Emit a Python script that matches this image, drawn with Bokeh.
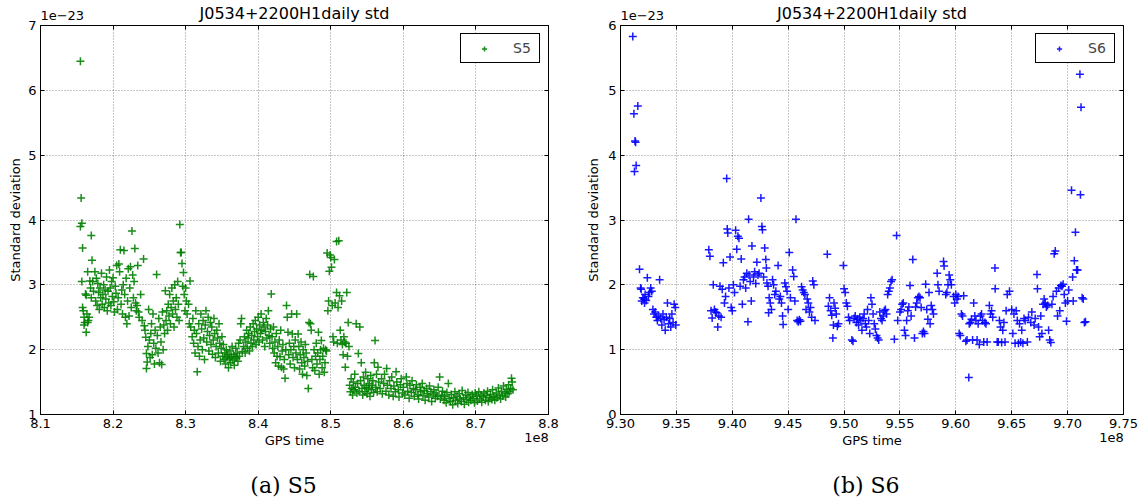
from bokeh.plotting import figure
from bokeh.layouts import row
from bokeh.models import (Range1d, FixedTicker, PrintfTickFormatter, LinearAxis,
                          CustomJSTickFormatter)
from bokeh.embed import file_html
from bokeh.resources import INLINE

# ---------------- data (GPS time in units of 1e8 s, std in units of 1e-23) ----------------
s5_gps = [
    8.155, 8.156, 8.157, 8.155, 8.158, 8.157, 8.158, 8.159, 8.160, 8.161,
    8.160, 8.163, 8.162, 8.163, 8.165, 8.166, 8.164, 8.167, 8.165, 8.170,
    8.168, 8.169, 8.170, 8.171, 8.172, 8.173,
    8.175, 8.177, 8.176, 8.178, 8.179, 8.180, 8.181, 8.182, 8.183, 8.184,
    8.185, 8.186, 8.187, 8.188, 8.189, 8.190, 8.191, 8.192, 8.193, 8.194,
    8.195, 8.196, 8.197, 8.198, 8.199, 8.200, 8.201, 8.202, 8.203, 8.204,
    8.205, 8.206, 8.207, 8.208, 8.209, 8.210, 8.211, 8.212, 8.213, 8.214,
    8.215, 8.216, 8.217, 8.218, 8.219, 8.220, 8.221, 8.222, 8.223, 8.224,
    8.226, 8.225, 8.227, 8.228, 8.229, 8.230, 8.231, 8.232, 8.233, 8.234,
    8.235, 8.236, 8.238,
    8.240, 8.242, 8.243, 8.244, 8.245, 8.246, 8.247, 8.246, 8.248, 8.249,
    8.250, 8.251, 8.252, 8.253, 8.254, 8.255, 8.256, 8.257, 8.258, 8.259,
    8.260, 8.261, 8.262, 8.263, 8.264, 8.265, 8.266, 8.267, 8.268, 8.269,
    8.270, 8.271,
    8.272, 8.273, 8.274, 8.275, 8.276, 8.277, 8.278, 8.279, 8.280, 8.281,
    8.282, 8.283, 8.284, 8.285, 8.286, 8.287, 8.288, 8.289, 8.290, 8.291,
    8.292, 8.293, 8.294, 8.295, 8.296, 8.297, 8.298, 8.299, 8.300, 8.301,
    8.302, 8.304, 8.306, 8.305,
    8.307, 8.309, 8.310, 8.311, 8.312, 8.313, 8.314, 8.315, 8.316, 8.317,
    8.318, 8.319, 8.320, 8.321, 8.322, 8.323, 8.324, 8.325, 8.326, 8.327,
    8.328, 8.329, 8.330, 8.331, 8.332, 8.333, 8.334, 8.335, 8.336, 8.337,
    8.338, 8.339, 8.340, 8.341, 8.342, 8.343, 8.344, 8.345, 8.346, 8.347,
    8.348, 8.349, 8.350,
    8.351, 8.352, 8.353, 8.354, 8.355, 8.356, 8.357, 8.358, 8.359, 8.360,
    8.361, 8.362, 8.363, 8.364, 8.365, 8.366, 8.367, 8.368, 8.369, 8.370,
    8.371, 8.372, 8.373, 8.374, 8.375, 8.376, 8.377, 8.378,
    8.380, 8.381, 8.382, 8.383, 8.384, 8.385, 8.386, 8.387, 8.388, 8.389,
    8.390, 8.391, 8.392, 8.393, 8.394, 8.395, 8.396, 8.397, 8.398, 8.399,
    8.400, 8.401, 8.402, 8.403, 8.404, 8.405, 8.406, 8.407, 8.408, 8.409,
    8.410, 8.411, 8.412, 8.413, 8.414, 8.415, 8.416, 8.418, 8.417,
    8.419, 8.420, 8.421, 8.422, 8.423, 8.424, 8.425, 8.426, 8.427, 8.428,
    8.429, 8.430, 8.431, 8.432, 8.433, 8.434, 8.435, 8.436, 8.437, 8.438,
    8.439, 8.440, 8.441, 8.442, 8.443, 8.444, 8.445, 8.446, 8.447, 8.448,
    8.449,
    8.450, 8.451, 8.452, 8.453, 8.454, 8.455, 8.456, 8.457, 8.458, 8.459,
    8.460, 8.461, 8.462, 8.463, 8.464, 8.465, 8.466, 8.467, 8.468, 8.469,
    8.470, 8.471, 8.472, 8.473, 8.474, 8.475, 8.476, 8.477, 8.478, 8.479,
    8.480, 8.481, 8.482, 8.483, 8.484, 8.485, 8.486, 8.487, 8.488, 8.489,
    8.490, 8.491, 8.492, 8.493, 8.494, 8.495,
    8.496, 8.497, 8.498, 8.499, 8.500, 8.501, 8.502, 8.503, 8.504, 8.505,
    8.506, 8.508, 8.508, 8.509, 8.510, 8.511, 8.512, 8.513, 8.514, 8.515,
    8.516, 8.517, 8.518, 8.519, 8.520, 8.521, 8.522, 8.523, 8.524, 8.525,
    8.526, 8.527, 8.528, 8.529, 8.530, 8.531, 8.532, 8.533, 8.534, 8.535,
    8.536, 8.537, 8.538, 8.539, 8.540, 8.541, 8.542, 8.543, 8.544, 8.545,
    8.546, 8.547, 8.548, 8.549, 8.550, 8.551, 8.552, 8.553, 8.554, 8.555,
    8.556, 8.557, 8.558, 8.559, 8.560, 8.561, 8.562, 8.563, 8.564, 8.565,
    8.566,
    8.568, 8.570, 8.571, 8.573, 8.574, 8.576, 8.577, 8.578, 8.580, 8.581,
    8.583, 8.584, 8.586, 8.587, 8.589, 8.590, 8.591, 8.593, 8.594, 8.596,
    8.597, 8.599, 8.600, 8.602, 8.604, 8.605, 8.606, 8.608, 8.609, 8.611,
    8.612, 8.614, 8.615, 8.617, 8.618, 8.620, 8.621, 8.623, 8.624, 8.626,
    8.627, 8.629, 8.630, 8.632, 8.633, 8.635, 8.636, 8.638, 8.639, 8.641,
    8.642, 8.644, 8.645, 8.647, 8.648, 8.650, 8.651,
    8.653, 8.654, 8.656, 8.657, 8.659, 8.660, 8.662, 8.663, 8.665, 8.666,
    8.668, 8.669, 8.671, 8.672, 8.674, 8.675, 8.677, 8.678, 8.680, 8.681,
    8.683, 8.684, 8.686, 8.687, 8.689, 8.690, 8.692, 8.693, 8.695, 8.696,
    8.698, 8.699, 8.701, 8.702, 8.704, 8.705, 8.707, 8.708, 8.710, 8.711,
    8.713, 8.714, 8.716, 8.717, 8.719, 8.720, 8.722, 8.723, 8.725, 8.726,
    8.728, 8.729, 8.731, 8.732, 8.734, 8.735, 8.737, 8.738, 8.740, 8.741,
    8.742, 8.744, 8.745, 8.746, 8.748, 8.749, 8.750, 8.751,
]
s5_std = [
    6.45, 4.34, 3.95, 3.90, 3.57, 3.05, 2.65, 2.60, 2.50, 2.42,
    2.38, 2.27, 2.86, 2.84, 2.42, 2.45, 2.55, 2.50, 3.20, 3.76,
    3.06, 2.95, 2.80, 3.38, 3.05, 2.90,
    3.20, 3.10, 2.75, 2.68, 3.02, 2.88, 2.62, 2.95, 2.80, 3.18,
    2.70, 2.85, 3.00, 2.65, 2.92, 2.78, 3.12, 2.60, 2.90, 2.72,
    3.23, 2.95, 2.68, 3.05, 2.82, 3.11, 2.74, 2.58, 2.98, 2.87,
    3.30, 2.62, 2.80, 3.32, 3.20, 3.54, 2.70, 2.92, 2.55, 3.00,
    3.53, 2.85, 2.50, 3.10, 2.40, 2.75, 3.25, 2.52, 2.95, 3.28,
    3.83, 2.65, 3.15, 2.80, 3.05, 3.56, 2.72, 2.60, 2.68, 3.30,
    2.58, 2.50, 2.85,
    2.45, 3.40, 2.37, 2.30, 2.19, 1.94, 1.81, 1.71, 2.05, 2.62,
    2.15, 1.88, 2.25, 2.40, 1.92, 2.55, 2.10, 1.78, 2.30, 2.02,
    3.16, 2.22, 1.95, 2.48, 1.80, 2.35, 2.12, 1.77, 2.58, 2.00,
    2.38, 2.25,
    2.91, 2.45, 2.60, 2.30, 2.70, 2.52, 2.85, 2.40, 2.65, 2.95,
    2.55, 2.75, 2.35, 3.00, 2.62, 2.80, 2.50, 3.05, 2.70, 2.45,
    3.93, 3.50, 3.50, 3.33, 2.98, 3.19, 2.85, 2.60, 2.95, 2.75,
    2.55, 2.70, 3.06, 2.40,
    2.35, 2.20, 2.48, 2.10, 2.30, 1.95, 2.60, 2.25, 1.66, 2.05,
    2.40, 1.90, 2.15, 2.55, 2.32, 2.00, 2.45, 2.18, 1.85, 2.38,
    2.60, 2.12, 2.28, 2.50, 1.98, 2.22, 2.42, 2.08, 2.35, 1.93,
    2.15, 2.48, 2.25, 1.88, 2.05, 2.30, 2.18, 1.95, 2.40, 2.10,
    1.82, 2.02, 2.20,
    1.90, 2.08, 1.85, 1.95, 1.78, 2.00, 1.88, 1.92, 1.72, 1.86,
    1.98, 1.80, 1.90, 2.05, 1.84, 1.93, 1.76, 1.89, 2.02, 1.87,
    1.95, 1.82, 2.10, 1.90, 2.15, 2.40, 2.48, 1.97,
    2.05, 2.20, 1.95, 2.12, 2.30, 2.02, 2.18, 2.25, 1.98, 2.35,
    2.10, 2.22, 2.05, 2.40, 2.15, 2.28, 2.45, 2.08, 2.32, 2.20,
    2.50, 2.12, 2.38, 2.25, 2.55, 2.30, 2.15, 2.42, 2.35, 2.05,
    2.28, 2.48, 2.18, 2.38, 2.60, 2.22, 2.10, 2.86, 2.32,
    2.20, 2.02, 2.35, 1.95, 2.12, 1.80, 2.25, 1.90, 2.05, 1.75,
    2.15, 1.89, 2.30, 1.73, 1.98, 2.08, 1.70, 1.85, 1.56, 2.00,
    2.68, 2.50, 2.27, 1.92, 2.10, 1.78, 2.00, 2.55, 2.24, 1.88,
    2.05,
    1.72, 2.15, 1.95, 2.55, 1.85, 2.24, 2.05, 1.70, 1.92, 2.12,
    1.80, 1.62, 2.00, 1.88, 1.75, 2.08, 1.95, 1.60, 1.82, 1.40,
    2.42, 3.16, 2.40, 2.30, 1.85, 1.72, 3.13, 2.00, 1.68, 1.90,
    2.10, 1.78, 1.95, 2.27, 1.62, 1.85, 2.00, 2.14, 1.72, 1.90,
    2.02, 1.65, 1.80, 2.00, 1.98, 3.49,
    2.60, 2.75, 3.21, 3.46, 3.42, 3.27, 2.68, 2.20, 2.12, 3.39,
    2.72, 3.67, 2.88, 2.10, 2.65, 3.68, 2.83, 2.30, 2.15, 2.75,
    2.08, 1.92, 2.20, 2.12, 1.73, 2.10, 2.88, 1.90, 2.42, 2.05,
    1.45, 1.35, 1.55, 1.40, 1.30, 1.50, 1.38, 1.62, 1.42, 2.40,
    1.33, 1.48, 1.94, 1.36, 2.35, 1.52, 1.80, 1.40, 1.30, 1.58,
    1.45, 1.35, 1.65, 1.42, 1.32, 1.55, 1.40, 1.48, 1.28, 1.60,
    1.38, 1.45, 1.52, 1.34, 1.80, 2.14, 1.42, 1.62, 1.35, 1.73,
    1.50,
    1.40, 1.55, 1.32, 1.48, 1.62, 1.36, 1.71, 1.45, 1.30, 1.52,
    1.40, 1.58, 1.28, 1.44, 1.35, 1.66, 1.50, 1.38, 1.27, 1.46,
    1.55, 1.33, 1.42, 1.30, 1.58, 1.48, 1.36, 1.25, 1.45, 1.34,
    1.52, 1.40, 1.28, 1.38, 1.46, 1.31, 1.24, 1.42, 1.35, 1.48,
    1.29, 1.37, 1.22, 1.40, 1.32, 1.27, 1.44, 1.35, 1.20, 1.30,
    1.38, 1.25, 1.33, 1.28, 1.42, 1.58, 1.24,
    1.30, 1.36, 1.22, 1.28, 1.18, 1.34, 1.48, 1.25, 1.20, 1.31,
    1.15, 1.26, 1.35, 1.22, 1.28, 1.17, 1.32, 1.24, 1.20, 1.37,
    1.26, 1.16, 1.30, 1.23, 1.34, 1.19, 1.27, 1.22, 1.31, 1.25,
    1.18, 1.33, 1.28, 1.21, 1.35, 1.24, 1.30, 1.19, 1.27, 1.33,
    1.22, 1.29, 1.36, 1.20, 1.26, 1.31, 1.23, 1.38, 1.28, 1.22,
    1.33, 1.26, 1.41, 1.30, 1.24, 1.36, 1.29, 1.44, 1.33, 1.27,
    1.39, 1.32, 1.46, 1.35, 1.40, 1.56, 1.50, 1.38,
]

s6_gps = [
    9.311, 9.3155, 9.312, 9.313, 9.3135, 9.314, 9.3125, 9.317, 9.318, 9.3185,
    9.319, 9.320, 9.321, 9.3215, 9.322, 9.323, 9.324, 9.325, 9.326, 9.327,
    9.328, 9.329, 9.330, 9.331, 9.332, 9.333, 9.334, 9.335, 9.336, 9.337,
    9.338, 9.339, 9.340, 9.341, 9.342, 9.343, 9.344, 9.345, 9.346, 9.347,
    9.348, 9.349, 9.3495,
    9.379, 9.380, 9.381, 9.382, 9.383, 9.384, 9.385, 9.386, 9.387, 9.388,
    9.389, 9.390, 9.391, 9.392, 9.393, 9.394, 9.395, 9.3955, 9.396, 9.397,
    9.398, 9.399, 9.400, 9.401, 9.402, 9.403, 9.404, 9.405, 9.406, 9.407,
    9.408, 9.409, 9.410, 9.411, 9.412, 9.413, 9.414, 9.4146, 9.415, 9.416,
    9.417, 9.4176, 9.419, 9.420, 9.421, 9.422, 9.423, 9.424, 9.4256, 9.4265,
    9.427, 9.428, 9.429, 9.430, 9.4305, 9.431, 9.432, 9.433, 9.434, 9.435,
    9.4325, 9.436, 9.437, 9.438, 9.439, 9.441, 9.442, 9.443, 9.444, 9.445,
    9.4455, 9.447, 9.448, 9.449, 9.450, 9.451, 9.452, 9.454, 9.455, 9.456,
    9.457, 9.458, 9.459, 9.460, 9.461, 9.462, 9.463, 9.464, 9.465, 9.466,
    9.467, 9.468, 9.469, 9.470, 9.471, 9.472, 9.473, 9.474,
    9.485, 9.486, 9.487, 9.488, 9.489, 9.490, 9.4905, 9.491, 9.492, 9.493,
    9.494, 9.495, 9.4994, 9.500, 9.501, 9.502, 9.503, 9.504, 9.505, 9.507,
    9.508, 9.509, 9.510, 9.511, 9.512, 9.513, 9.514, 9.515, 9.516, 9.517,
    9.518, 9.519, 9.520, 9.521, 9.522, 9.523, 9.524,
    9.525, 9.526, 9.527, 9.528, 9.529, 9.530, 9.531, 9.532, 9.533, 9.534,
    9.535, 9.536, 9.537, 9.538, 9.539, 9.540, 9.541, 9.542, 9.543, 9.545,
    9.547, 9.548, 9.550, 9.551, 9.552, 9.553, 9.554, 9.555, 9.556, 9.557,
    9.558, 9.559, 9.560, 9.5615, 9.563, 9.564, 9.565, 9.566, 9.567, 9.568,
    9.569, 9.570, 9.571, 9.572, 9.573, 9.574, 9.575, 9.576, 9.577, 9.578,
    9.579, 9.580, 9.5833, 9.584, 9.585, 9.589, 9.5895, 9.591, 9.592, 9.593,
    9.594, 9.595, 9.596, 9.598, 9.599, 9.600, 9.601, 9.602, 9.603, 9.604,
    9.605, 9.606, 9.607, 9.609, 9.610, 9.6116, 9.612, 9.613, 9.614, 9.615,
    9.616, 9.617, 9.618, 9.619, 9.620, 9.621, 9.622, 9.623, 9.624, 9.625,
    9.626, 9.627, 9.628, 9.630, 9.631, 9.632, 9.633, 9.635, 9.6352, 9.637,
    9.638, 9.639, 9.640, 9.641, 9.642, 9.643, 9.644, 9.645, 9.646, 9.648,
    9.650, 9.651, 9.652, 9.653, 9.654, 9.655, 9.656, 9.657, 9.658, 9.659,
    9.660, 9.661, 9.662, 9.664, 9.665, 9.667, 9.668, 9.670, 9.671, 9.6726,
    9.673, 9.674, 9.675, 9.676, 9.677, 9.678, 9.679, 9.680, 9.681, 9.682,
    9.683, 9.684, 9.685, 9.686, 9.687, 9.688, 9.689, 9.690, 9.691, 9.692,
    9.693, 9.694, 9.695, 9.696, 9.697, 9.698, 9.699, 9.700, 9.701, 9.7035,
    9.7045, 9.705, 9.706, 9.707, 9.708, 9.709, 9.711, 9.7115, 9.712, 9.713,
    9.714, 9.715, 9.716,
]
s6_std = [
    5.83, 4.76, 4.64, 4.22, 4.20, 3.84, 3.75, 2.24, 1.95, 1.93,
    1.75, 1.80, 1.78, 1.72, 1.85, 1.76, 2.11, 1.82, 1.88, 1.95,
    1.90, 1.62, 1.55, 1.58, 1.50, 1.45, 1.52, 2.08, 1.48, 1.38,
    1.55, 1.46, 1.30, 1.50, 1.72, 1.40, 1.48, 1.35, 1.55, 1.42,
    1.70, 1.65, 1.38,
    2.54, 2.44, 1.60, 1.49, 2.00, 1.62, 1.58, 1.57, 1.35, 1.52,
    1.98, 1.50, 1.93, 2.34, 1.72, 1.82, 3.64, 2.86, 2.80, 1.95,
    2.43, 1.65, 1.60, 2.00, 1.88, 2.84, 2.55, 2.75, 2.72, 1.98,
    2.40, 1.70, 2.08, 2.12, 1.95, 2.18, 1.43, 3.01, 2.15, 2.05,
    1.75, 2.60, 2.12, 2.20, 2.02, 2.35, 2.15, 2.18, 3.34, 2.90,
    2.85, 2.12, 2.57, 2.39, 2.26, 2.03, 1.98, 1.80, 1.72, 1.62,
    1.57, 2.08, 2.00, 1.85, 1.90, 2.30, 1.78, 1.82, 1.72, 1.52,
    1.39, 2.03, 1.97, 1.90, 1.62, 2.50, 1.80, 2.23, 2.13, 1.75,
    3.01, 1.45, 1.43, 1.46, 1.44, 1.97, 1.92, 1.88, 1.85, 1.62,
    1.78, 1.72, 1.58, 1.65, 1.50, 2.06, 2.00, 1.45,
    2.47, 1.67, 1.80, 1.60, 1.53, 1.18, 1.38, 1.72, 1.64, 1.55,
    1.36, 1.40, 2.30, 1.94, 1.88, 1.72, 1.67, 1.50, 1.45, 1.15,
    1.13, 1.48, 1.52, 1.42, 1.47, 1.38, 1.50, 1.45, 1.30, 1.48,
    1.55, 1.40, 1.35, 1.62, 1.45, 1.25, 1.80,
    1.70, 1.55, 1.40, 1.32, 1.22, 1.18, 1.15, 1.58, 1.48, 1.45,
    1.52, 1.60, 1.62, 1.55, 1.85, 1.90, 1.95, 2.05, 2.08, 1.16,
    2.76, 1.45, 1.58, 1.62, 1.70, 1.72, 1.30, 1.22, 1.45, 1.60,
    1.66, 1.99, 1.52, 2.39, 1.18, 1.66, 1.72, 1.80, 1.82, 1.80,
    1.65, 1.25, 1.28, 1.25, 2.01, 1.62, 1.47, 1.88, 1.40, 1.68,
    1.62, 1.55, 2.18, 2.00, 1.90, 2.36, 2.29, 1.85, 1.88, 2.00,
    2.15, 2.08, 2.00, 1.82, 1.72, 1.85, 1.78, 1.82, 1.25, 1.22,
    1.55, 1.52, 1.83, 1.13, 1.15, 0.57, 1.40, 1.42, 1.47, 1.15,
    1.72, 1.52, 1.45, 1.15, 1.40, 1.08, 1.52, 1.55, 1.45, 1.12,
    1.42, 1.40, 1.12, 1.68, 1.55, 1.60, 1.50, 2.26, 1.94, 1.12,
    1.12, 1.45, 1.35, 1.11, 1.30, 1.42, 1.12, 1.60, 1.85, 1.90,
    1.62, 1.25, 1.55, 1.10, 1.60, 1.45, 1.10, 1.40, 1.12, 1.30,
    1.10, 1.48, 1.45, 1.12, 1.50, 1.42, 1.58, 1.38, 1.48, 2.16,
    1.94, 1.35, 1.20, 1.52, 1.25, 1.70, 1.78, 1.72, 1.66, 1.68,
    1.30, 1.15, 1.11, 1.70, 1.82, 2.48, 2.52, 1.90, 1.52, 1.95,
    1.60, 1.99, 1.98, 2.01, 1.85, 1.72, 1.44, 1.75, 1.92, 3.46,
    2.12, 1.75, 2.37, 2.81, 2.23, 2.23, 5.25, 3.39, 4.74, 1.80,
    1.78, 1.42, 1.43,
]

s5_xticks = [8.1, 8.2, 8.3, 8.4, 8.5, 8.6, 8.7, 8.8]
s5_yticks = [1, 2, 3, 4, 5, 6, 7]
s6_xticks = [9.30, 9.35, 9.40, 9.45, 9.50, 9.55, 9.60, 9.65, 9.70, 9.75]
s6_yticks = [0, 1, 2, 3, 4, 5, 6]

TITLE = "J0534+2200H1daily std"
FONT = "DejaVu Sans"
SERIF = "DejaVu Serif"


def text_axis(pos, text, font, size, standoff):
    """An axis that draws nothing but one tick label (used for free-standing texts)."""
    return LinearAxis(ticker=FixedTicker(ticks=[pos]),
                      formatter=CustomJSTickFormatter(code="return %r" % text),
                      axis_line_color=None, major_tick_line_color=None,
                      minor_tick_line_color=None, major_label_standoff=standoff,
                      major_label_text_font=font, major_label_text_font_size=size,
                      major_label_text_color="black")


def build(x, y, color, name, xr, yr, xticks, yticks, xfmt, width, height,
          bl, br, bt, ylab_standoff, x1e23, x1e8, caption, xcap):
    p = figure(width=width, height=height, x_range=Range1d(*xr), y_range=Range1d(*yr),
               output_backend="svg", toolbar_location=None,
               min_border_left=bl, min_border_right=br, min_border_top=bt,
               min_border_bottom=85)
    p.background_fill_color = "white"
    p.border_fill_color = "white"
    p.outline_line_color = "black"
    p.outline_line_width = 1
    p.outline_line_alpha = 1

    p.scatter(x, y, marker="cross", size=8, line_width=1.5, line_color=color,
              line_alpha=0.9, legend_label=name)

    for ax, ticks, fmt in ((p.xaxis[0], xticks, xfmt), (p.yaxis[0], yticks, "%d")):
        ax.ticker = FixedTicker(ticks=ticks)
        ax.formatter = PrintfTickFormatter(format=fmt)
        ax.major_tick_in = 4
        ax.major_tick_out = 0
        ax.major_tick_line_color = "black"
        ax.minor_tick_line_color = None
        ax.axis_line_color = "black"
        ax.major_label_text_font = FONT
        ax.major_label_text_font_size = "13px"
        ax.major_label_text_color = "black"
        ax.axis_label_text_font = FONT
        ax.axis_label_text_font_size = "13px"
        ax.axis_label_text_font_style = "normal"
        ax.axis_label_text_color = "black"
    p.xaxis[0].axis_label = "GPS time"
    p.xaxis[0].major_label_standoff = 4
    p.xaxis[0].axis_label_standoff = 2
    p.yaxis[0].axis_label = "Standard deviation"
    p.yaxis[0].major_label_standoff = 4
    p.yaxis[0].axis_label_standoff = ylab_standoff

    # top: inward ticks, offset text "1e-23" and the title (axis label)
    top_ax = LinearAxis(ticker=FixedTicker(ticks=[x1e23], minor_ticks=xticks),
                        formatter=CustomJSTickFormatter(code="return '1e\u221223'"),
                        axis_line_color=None, major_tick_line_color=None,
                        minor_tick_in=4, minor_tick_out=0, minor_tick_line_color="black",
                        major_label_standoff=0, major_label_text_font=FONT,
                        major_label_text_font_size="13px", major_label_text_color="black",
                        axis_label=TITLE, axis_label_standoff=-15,
                        axis_label_text_font=FONT, axis_label_text_font_size="16px",
                        axis_label_text_font_style="normal", axis_label_text_color="black")
    p.add_layout(top_ax, "above")

    # right: inward ticks only
    right_ax = LinearAxis(ticker=FixedTicker(ticks=[], minor_ticks=yticks),
                          axis_line_color=None, major_tick_line_color=None,
                          minor_tick_in=4, minor_tick_out=0, minor_tick_line_color="black")
    p.add_layout(right_ax, "right")

    # bottom: offset text "1e8" (pulled up to the x-label row) and the sub-caption
    p.add_layout(text_axis(x1e8, "1e8", FONT, "13px", -24), "below")
    p.add_layout(text_axis(xcap, caption, SERIF, "22px", 16), "below")

    p.xgrid.ticker = FixedTicker(ticks=xticks)
    p.ygrid.ticker = FixedTicker(ticks=yticks)
    for g in (p.xgrid[0], p.ygrid[0]):
        g.grid_line_color = "black"
        g.grid_line_alpha = 0.45
        g.grid_line_dash = "1 2"
        g.grid_line_width = 1

    leg = p.legend[0]
    leg.location = "top_right"
    leg.margin = 8
    leg.padding = 6
    leg.spacing = 0
    leg.glyph_width = 34
    leg.glyph_height = 13
    leg.label_height = 13
    leg.label_standoff = 12
    leg.label_text_font = FONT
    leg.label_text_font_size = "14px"
    leg.border_line_color = "black"
    leg.border_line_width = 1
    leg.border_line_alpha = 1
    leg.background_fill_alpha = 1
    return p


# Page has no margin: canvas pixels == page pixels.
# (a) S5 : frame x 40..548, y 22..415      (b) S6 : frame x 619..1123, y 25..415
p1 = build(s5_gps, s5_std, "#008000", "S5", (8.1, 8.8), (1, 7), s5_xticks, s5_yticks,
           "%.1f", 583, 500, 40, 35, 22, 2, 8.130, 8.7835, "(a) S5", 8.4349)
p2 = build(s6_gps, s6_std, "#0000ff", "S6", (9.30, 9.75), (0, 6), s6_xticks, s6_yticks,
           "%.2f", 561, 500, 36, 21, 25, 4, 9.3195, 9.7393, "(b) S6", 9.5196)

layout = row(p1, p2)
open("out.html", "w").write(file_html(layout, INLINE))
